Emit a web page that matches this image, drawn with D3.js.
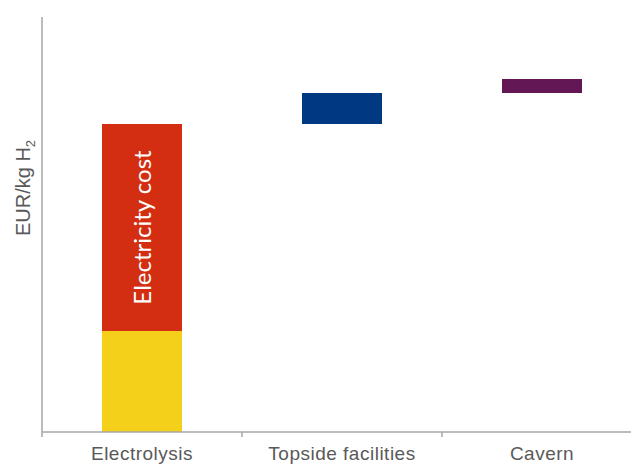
<!DOCTYPE html>
<html>
<head>
<meta charset="utf-8">
<script src="https://cdn.jsdelivr.net/npm/d3@7"></script>
<style>
  html, body { margin: 0; padding: 0; background: #fff; }
  svg { display: block; }
</style>
</head>
<body>
<svg id="chart" width="631" height="466"></svg>
<script>
// Cost build-up per kg of hydrogen (EUR/kg H2)
const categories = ["Electrolysis", "Topside facilities", "Cavern"];
// Stacked segments, in waterfall order
const segmentCategory = ["Electrolysis", "Electrolysis", "Topside facilities", "Cavern"];
const segmentName = ["Electrolyser", "Electricity cost", "Topside facilities", "Cavern"];
const segmentValue = [1.01, 2.07, 0.31, 0.14];
const segmentColor = ["#f5d01a", "#d42e12", "#003882", "#641755"];
const segmentLabel = ["", "Electricity cost", "", ""];
const yMax = 4.15;

const svg = d3.select("#chart");
const margin = { left: 42, top: 17, bottom: 34 };
const plotBottom = 466 - margin.bottom;

const x = d3.scaleBand()
  .domain(categories)
  .range([margin.left, margin.left + 600])
  .paddingInner(0.6)
  .paddingOuter(0.3);

const y = d3.scaleLinear()
  .domain([0, yMax])
  .range([plotBottom, margin.top]);

// Waterfall: each segment starts where the previous one ended
let running = 0;
const segments = segmentValue.map((v, i) => {
  const s = { cat: segmentCategory[i], name: segmentName[i], y0: running, y1: running + v,
              color: segmentColor[i], label: segmentLabel[i] };
  running += v;
  return s;
});

const axisColor = "#a6a6a6";

// Bars
svg.append("g").selectAll("rect")
  .data(segments)
  .join("rect")
  .attr("x", d => x(d.cat))
  .attr("width", x.bandwidth())
  .attr("y", d => y(d.y1))
  .attr("height", d => y(d.y0) - y(d.y1))
  .attr("fill", d => d.color);

// In-bar labels
svg.append("g").selectAll("text")
  .data(segments.filter(d => d.label))
  .join("text")
  .attr("transform", d => `translate(${x(d.cat) + x.bandwidth() / 2 + 9},${(y(d.y0) + y(d.y1)) / 2}) rotate(-90)`)
  .attr("text-anchor", "middle")
  .attr("fill", "#ffffff")
  .style("font-family", "Lato, 'Noto Sans', sans-serif")
  .style("font-size", "24px")
  .text(d => d.label);

// Y axis line (no ticks)
svg.append("line")
  .attr("x1", margin.left).attr("x2", margin.left)
  .attr("y1", margin.top).attr("y2", plotBottom)
  .attr("stroke", axisColor).attr("stroke-width", 1.5);

// X axis with ticks on category boundaries
const xAxis = svg.append("g");
xAxis.append("line")
  .attr("x1", margin.left).attr("x2", 631)
  .attr("y1", plotBottom).attr("y2", plotBottom)
  .attr("stroke", axisColor).attr("stroke-width", 1.5);
const step = x.step();
const boundaries = categories.map(c => x(c) - step * x.paddingOuter());
xAxis.selectAll("line.tick")
  .data(boundaries)
  .join("line")
  .attr("class", "tick")
  .attr("x1", d => d).attr("x2", d => d)
  .attr("y1", plotBottom).attr("y2", plotBottom + 5)
  .attr("stroke", axisColor).attr("stroke-width", 1.5);

xAxis.selectAll("text")
  .data(categories)
  .join("text")
  .attr("x", d => x(d) + x.bandwidth() / 2)
  .attr("y", plotBottom + 28)
  .attr("text-anchor", "middle")
  .attr("fill", "#595959")
  .style("font-family", "'Liberation Sans', Arial, sans-serif")
  .style("font-size", "19px")
  .style("letter-spacing", "0.5px")
  .text(d => d);

// Y axis title
const yTitle = svg.append("text")
  .attr("transform", "translate(30,188) rotate(-90)")
  .attr("text-anchor", "middle")
  .attr("fill", "#595959")
  .style("font-family", "'Liberation Sans', Arial, sans-serif")
  .style("font-size", "20px");
yTitle.append("tspan").text("EUR/kg H");
yTitle.append("tspan").attr("dy", 5).style("font-size", "13px").text("2");
</script>
</body>
</html>
